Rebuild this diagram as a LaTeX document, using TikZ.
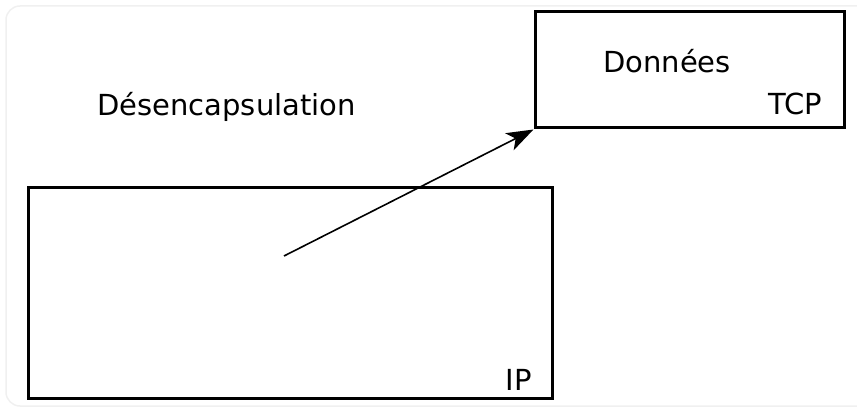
\documentclass[tikz,border=0pt]{standalone}
\usepackage{fontspec}
\setmainfont{DejaVu Sans}
\usepackage{tikz}
\usetikzlibrary{arrows.meta,positioning}

\begin{document}
\begin{tikzpicture}[x=1pt,y=-1pt,font=\fontsize{29}{35}\selectfont,
  kasten/.style={draw,line width=3pt,inner sep=0pt},
  etikett/.style={inner sep=0pt,anchor=base east}]
\useasboundingbox (0,0) rectangle (857,409);
%leichter Rahmen der Karte
\draw[black!6,line width=1.5pt,rounded corners=14pt] (6,6) rectangle (900,406);
\node[kasten,minimum width=309pt,minimum height=116pt] (tcp) at (689.5,70) {};
\node[kasten,minimum width=524pt,minimum height=211pt] (ip) at (290,292.5) {};
\node[inner sep=0pt,anchor=base] (titel) at (226.5,116) {Désencapsulation};
\node[inner sep=0pt,anchor=base] (daten) at (667,73) {Données};
\node[etikett] (tcplabel) at (822,115) {TCP};
\node[etikett] (iplabel) at (532,390) {IP};
\coordinate (start) at (284,256);
\draw[line width=1.6pt,-{Stealth[length=27pt,width=19pt,inset=7pt]}] (start) -- (tcp.south west);
\end{tikzpicture}
\end{document}
